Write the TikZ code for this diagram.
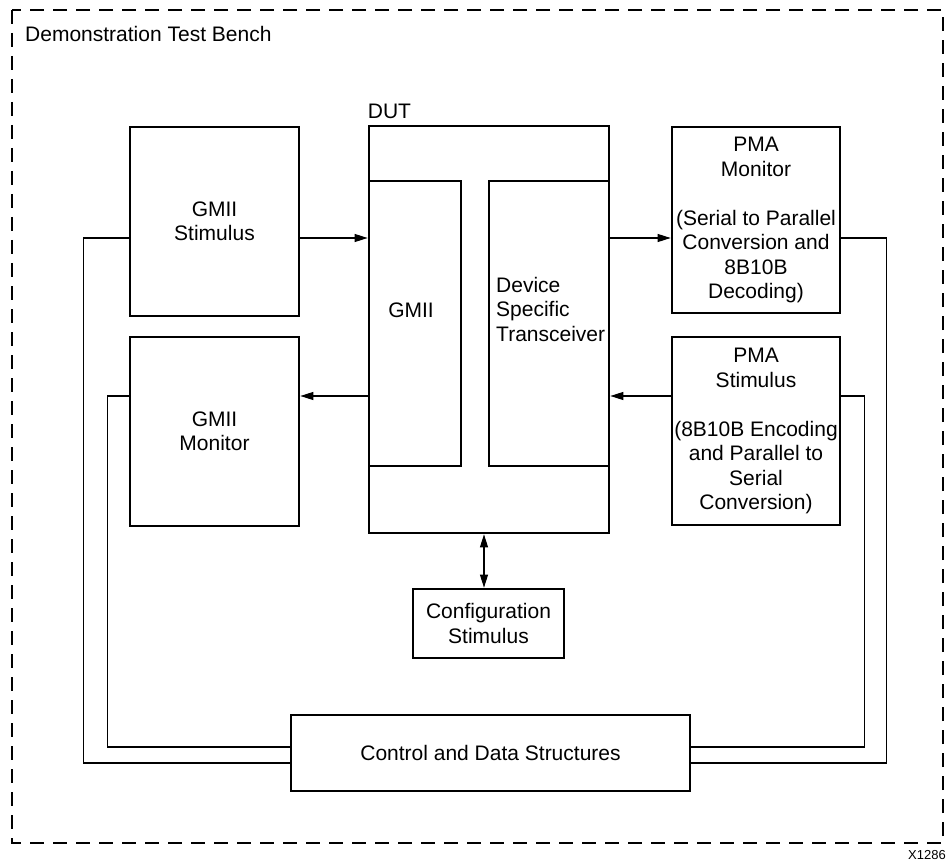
\documentclass[tikz,border=0pt]{standalone}
\usepackage{fontspec}
\setmainfont{Liberation Sans}
\usetikzlibrary{arrows.meta,positioning}

\begin{document}
\begin{tikzpicture}[x=1pt, y=-1pt, every node/.style={font=\fontsize{21}{24.5}\selectfont},
    blk/.style={draw, line width=2.7pt, inner sep=0pt, align=center},
    conn/.style={line width=1.1pt},
    tip/.style={-{Triangle[length=13pt,width=8pt]}}]
  \useasboundingbox (0,0) rectangle (948,861);
  \draw[line width=1.3pt, dash pattern=on 14pt off 9pt] (12,10) rectangle (943,843);
  \node[anchor=west, inner sep=0pt] (bench) at (25,34) {Demonstration Test Bench};
  \node[font=\fontsize{13}{15}\selectfont, inner sep=0pt] (fig) at (927,855) {X1286};

  % rows of the connectors
  \coordinate (rowA) at (0,238);
  \coordinate (rowB) at (0,396);
  \coordinate (lowA) at (0,747);
  \coordinate (lowB) at (0,763);

  \node[blk, minimum width=169pt, minimum height=189pt] (gstim) at (214.5,221.5) {GMII\\Stimulus};
  \node[blk, minimum width=169pt, minimum height=189pt] (gmon) at (214.5,431.5) {GMII\\Monitor};
  \node[blk, minimum width=240pt, minimum height=407pt] (dut) at (489,329.5) {};
  \node[anchor=base west, inner sep=0pt] (dutlbl) at ([yshift=6pt]dut.north west) {DUT};
  \node[blk, minimum width=92pt, minimum height=285pt] (gmii) at (415,323.5) {};
  \node[inner sep=0pt] (gmiitxt) at (411,310) {GMII};
  \node[blk, minimum width=120pt, minimum height=285pt] (dst) at (549,323.5) {};
  \node[anchor=west, align=left, inner sep=0pt] (dsttxt) at (496,309) {Device\\Specific\\Transceiver};
  \node[blk, minimum width=168pt, minimum height=186pt] (pmon) at (756,220)
    {PMA\\Monitor\\[24.5pt](Serial to Parallel\\Conversion and\\8B10B\\Decoding)};
  \node[blk, minimum width=168pt, minimum height=188pt] (pstim) at (756,431)
    {PMA\\Stimulus\\[24.5pt](8B10B Encoding\\and Parallel to\\Serial\\Conversion)};
  \node[blk, minimum width=151pt, minimum height=69pt] (cfg) at (488.5,623.5) {Configuration\\Stimulus};
  \node[blk, minimum width=399pt, minimum height=76pt] (ctrl) at (490.5,753) {Control and Data Structures};

  \draw[conn, tip] (gstim.east |- rowA) -- (dut.west |- rowA);
  \draw[conn, tip] (dut.west |- rowB) -- (gmon.east |- rowB);
  \draw[conn, tip] (dut.east |- rowA) -- (pmon.west |- rowA);
  \draw[conn, tip] (pstim.west |- rowB) -- (dut.east |- rowB);
  \draw[conn, {Triangle[length=13pt,width=8pt]}-{Triangle[length=13pt,width=8pt]}] ([xshift=-4.5pt]cfg.north) -- ([xshift=-4.5pt]cfg.north |- dut.south);

  % loops to the control block
  \draw[conn] (gstim.west |- rowA) -- ++(-45,0) |- (ctrl.west |- lowB);
  \draw[conn] (gmon.west |- rowB) -- ++(-21,0) |- (ctrl.west |- lowA);
  \draw[conn] (pstim.east |- rowB) -- ++(23,0) |- (ctrl.east |- lowA);
  \draw[conn] (pmon.east |- rowA) -- ++(45,0) |- (ctrl.east |- lowB);
\end{tikzpicture}
\end{document}
